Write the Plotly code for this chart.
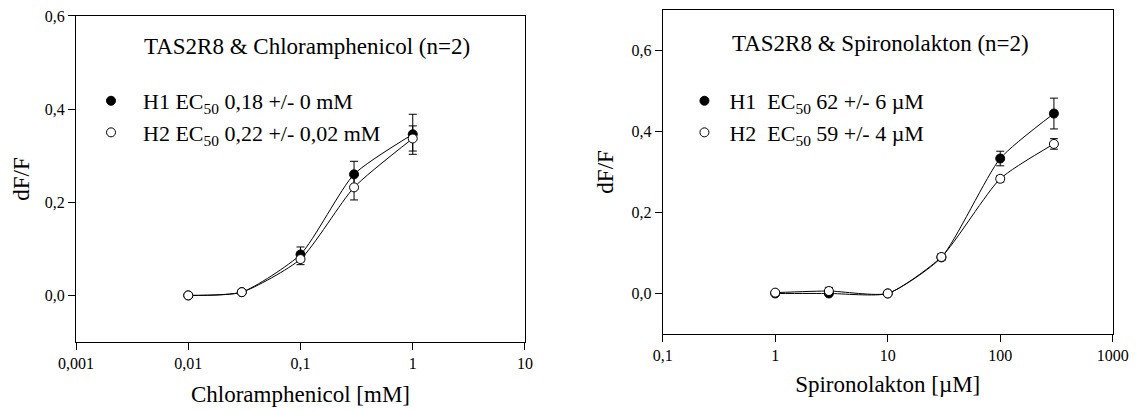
import plotly.graph_objects as go

# ---------------- data ----------------
chl_conc = [0.01, 0.03, 0.1, 0.3, 1.0]
chl_h1 = [0.0, 0.007, 0.088, 0.260, 0.346]
chl_h1_err = [0.0, 0.0, 0.016, 0.028, 0.043]
chl_h2 = [0.0, 0.007, 0.078, 0.232, 0.337]
chl_h2_err = [0.0, 0.0, 0.012, 0.027, 0.027]

spi_conc = [1, 3, 10, 30, 100, 300]
spi_h1 = [0.0, 0.0, 0.0, 0.089, 0.333, 0.444]
spi_h1_err = [0.0, 0.004, 0.0, 0.008, 0.018, 0.038]
spi_h2 = [0.002, 0.006, 0.0, 0.090, 0.283, 0.369]
spi_h2_err = [0.003, 0.009, 0.0, 0.008, 0.008, 0.013]

chl_xticks = [0.001, 0.01, 0.1, 1, 10]
chl_xticktext = ["0,001", "0,01", "0,1", "1", "10"]
spi_xticks = [0.1, 1, 10, 100, 1000]
spi_xticktext = ["0,1", "1", "10", "100", "1000"]
y_ticks = [0.0, 0.2, 0.4, 0.6]
y_ticktext = ["0,0", "0,2", "0,4", "0,6"]

chl_names = ["H1 EC<sub>50</sub> 0,18 +/- 0 mM", "H2 EC<sub>50</sub> 0,22 +/- 0,02 mM"]
spi_names = ["H1  EC<sub>50</sub> 62 +/- 6 µM", "H2  EC<sub>50</sub> 59 +/- 4 µM"]
titles = ["TAS2R8 & Chloramphenicol (n=2)", "TAS2R8 & Spironolakton (n=2)"]
xtitles = ["Chloramphenicol [mM]", "Spironolakton [µM]"]

FONT = "Liberation Serif"

fig = go.Figure()


def add_panel(xs, h1, h1e, h2, h2e, names, xa, ya, leg):
    for ys in (h1, h2):
        fig.add_trace(go.Scatter(
            x=xs, y=ys, mode="lines", line=dict(color="black", width=1, shape="spline", smoothing=0.6),
            xaxis=xa, yaxis=ya, showlegend=False, hoverinfo="skip"))
    fig.add_trace(go.Scatter(
        x=xs, y=h1, mode="markers", name=names[0], legend=leg,
        marker=dict(symbol="circle", size=9, color="black", line=dict(color="black", width=1)),
        error_y=dict(type="data", array=h1e, visible=True, color="black", thickness=1, width=4),
        xaxis=xa, yaxis=ya))
    fig.add_trace(go.Scatter(
        x=xs, y=h2, mode="markers", name=names[1], legend=leg,
        marker=dict(symbol="circle", size=9, color="white", line=dict(color="black", width=1)),
        error_y=dict(type="data", array=h2e, visible=True, color="black", thickness=1, width=4),
        xaxis=xa, yaxis=ya))


add_panel(chl_conc, chl_h1, chl_h1_err, chl_h2, chl_h2_err, chl_names, "x", "y", "legend")
add_panel(spi_conc, spi_h1, spi_h1_err, spi_h2, spi_h2_err, spi_names, "x2", "y2", "legend2")

axis_common = dict(showline=True, linecolor="black", linewidth=1, mirror=True,
                   ticks="outside", ticklen=7, tickwidth=1, tickcolor="black",
                   showgrid=False, zeroline=False, automargin=False,
                   tickfont=dict(family=FONT, size=16, color="black"))

fig.update_layout(
    template="none",
    width=1140, height=410,
    margin=dict(l=0, r=0, t=0, b=0, pad=0),
    paper_bgcolor="white", plot_bgcolor="white",
    font=dict(family=FONT, color="black"),
    xaxis=dict(type="log", range=[-3, 1], domain=[0.0667, 0.4605], anchor="y",
               tickmode="array", tickvals=chl_xticks, ticktext=chl_xticktext,
               title=dict(text=xtitles[0], font=dict(family=FONT, size=23), standoff=14),
               **axis_common),
    yaxis=dict(range=[-0.1, 0.6], domain=[0.1659, 0.9610], anchor="x",
               tickmode="array", tickvals=y_ticks, ticktext=y_ticktext,
               title=dict(text="dF/F", font=dict(family=FONT, size=23), standoff=8),
               **axis_common),
    xaxis2=dict(type="log", range=[-1, 3], domain=[0.5813, 0.9761], anchor="y2",
                tickmode="array", tickvals=spi_xticks, ticktext=spi_xticktext,
                title=dict(text=xtitles[1], font=dict(family=FONT, size=23), standoff=12),
                **axis_common),
    yaxis2=dict(range=[-0.1, 0.7], domain=[0.1854, 0.9761], anchor="x2",
                tickmode="array", tickvals=y_ticks, ticktext=y_ticktext,
                title=dict(text="dF/F", font=dict(family=FONT, size=23), standoff=11),
                **axis_common),
    legend=dict(x=0.0693, y=0.805, xanchor="left", yanchor="top", bgcolor="rgba(0,0,0,0)",
                font=dict(family=FONT, size=22, color="black"), tracegroupgap=0, itemwidth=54),
    legend2=dict(x=0.596, y=0.805, xanchor="left", yanchor="top", bgcolor="rgba(0,0,0,0)",
                 font=dict(family=FONT, size=22, color="black"), tracegroupgap=0, itemwidth=40),
    annotations=[
        dict(text=titles[0], x=0.2695, y=0.886, xref="paper", yref="paper",
             xanchor="center", yanchor="middle", showarrow=False,
             font=dict(family=FONT, size=23, color="black")),
        dict(text=titles[1], x=0.772, y=0.8927, xref="paper", yref="paper",
             xanchor="center", yanchor="middle", showarrow=False,
             font=dict(family=FONT, size=23, color="black")),
    ],
)

fig.write_html("out.html", config={"displayModeBar": False},
               post_script="document.body.style.margin='0';")
